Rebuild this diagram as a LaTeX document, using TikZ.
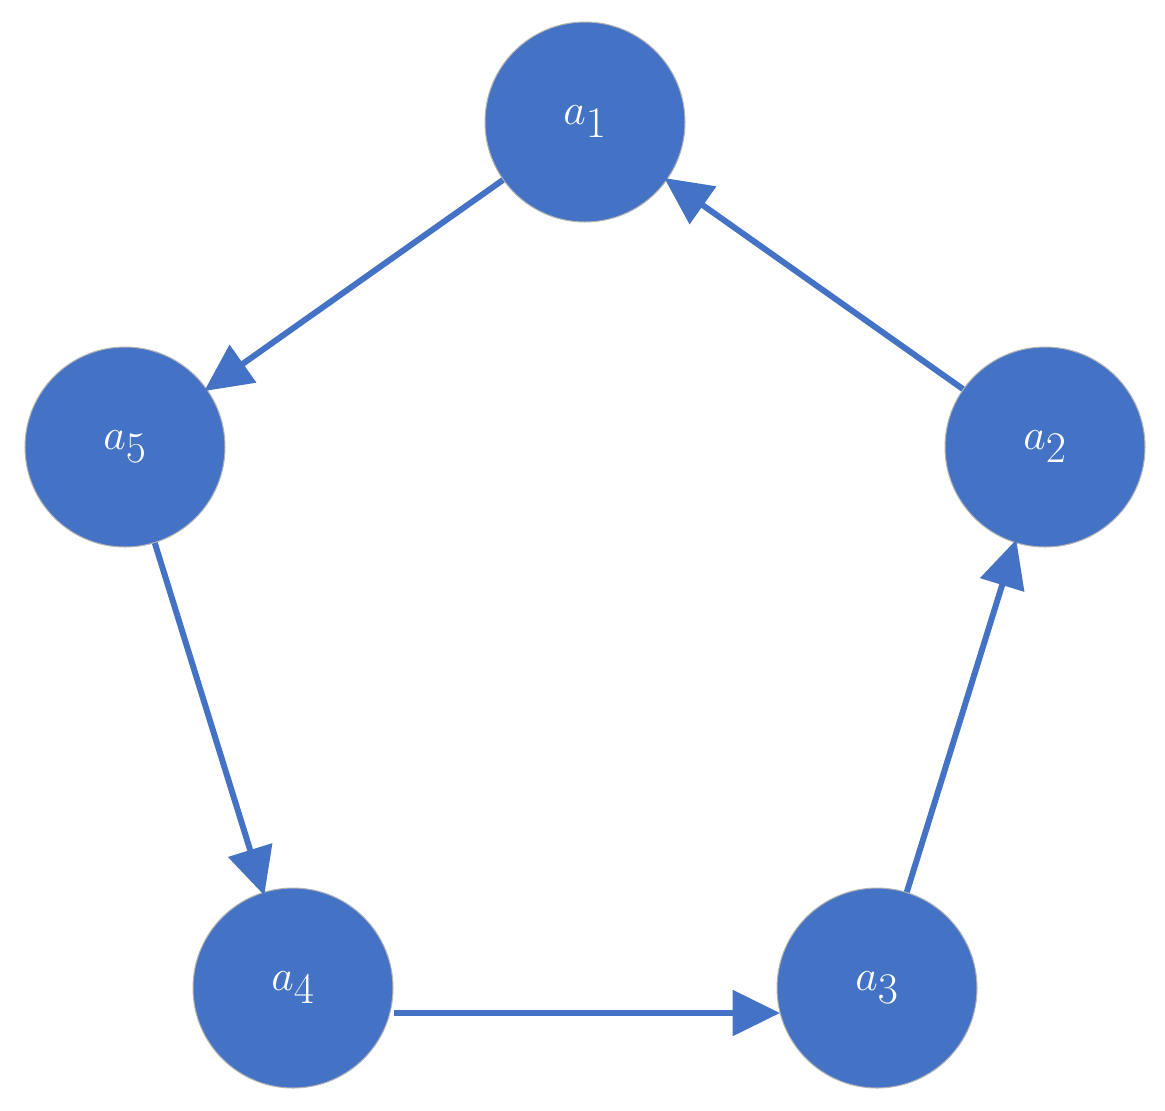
\documentclass[tikz,border=0pt]{standalone}
\usetikzlibrary{arrows.meta}
\definecolor{nodeblue}{HTML}{4472C4}
\tikzset{
  agent/.style={circle, fill=nodeblue, draw=gray!60, line width=0.6pt, minimum size=4cm, inner sep=0pt,
    text=white, font=\fontsize{58}{60}\selectfont},
  link/.style={draw=nodeblue, line width=3.4pt, -{Triangle[length=0.95cm,width=0.9cm]}, shorten >=-2pt}
}
\begin{document}
\begin{tikzpicture}[x=0.02cm, y=-0.02cm]
    \useasboundingbox (0,0) rectangle (1165,1110) ;
    \node [agent] (a1) at (585,122) {$a_1$} ;
    \node [agent] (a2) at (1045,447) {$a_2$} ;
    \node [agent] (a3) at (877,988) {$a_3$} ;
    \node [agent] (a4) at (293,988) {$a_4$} ;
    \node [agent] (a5) at (125,447) {$a_5$} ;

    \draw [link] (a1) -- (a5) ;
    \draw [link] (a2) -- (a1) ;
    \draw [link] (a3) -- (a2) ;
    \draw [link] ([yshift=-0.5cm]a4.east) -- ([yshift=-0.5cm]a3.west) ;
    \draw [link] (a5) -- (a4) ;
\end{tikzpicture}
\end{document}
